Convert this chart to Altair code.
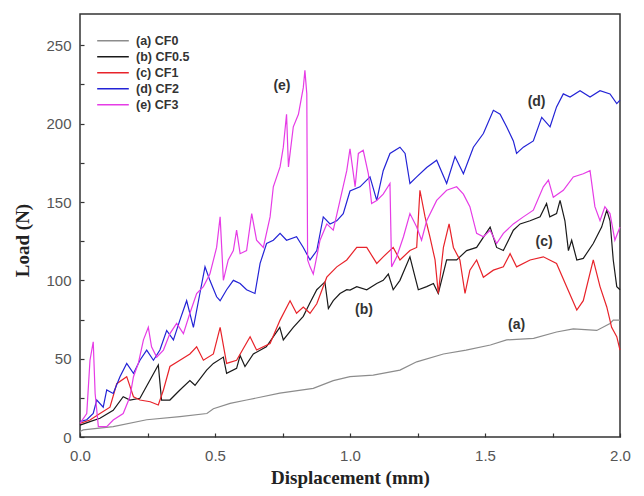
import altair as alt
import pandas as pd

# ---- data ----
a_x = [0.0, 0.012, 0.123, 0.247, 0.37, 0.47, 0.494, 0.556, 0.617, 0.74, 0.864, 0.938, 1.0,
       1.086, 1.185, 1.247, 1.346, 1.43, 1.52, 1.58, 1.68, 1.765, 1.827, 1.914, 1.963, 1.975, 2.0]
a_y = [3.5, 4.5, 6.6, 11, 13, 15, 18, 21.5, 23.6, 28, 31, 36, 38.5,
       39.5, 42.7, 48, 53, 55.5, 58.7, 62, 63, 67, 69, 68, 72.5, 74.6, 74.6]

b_x = [0.0, 0.037, 0.074, 0.123, 0.16, 0.185, 0.222, 0.29, 0.302, 0.333, 0.37, 0.407, 0.426,
       0.469, 0.494, 0.531, 0.543, 0.58, 0.593, 0.611, 0.642, 0.69, 0.74, 0.753, 0.79, 0.827,
       0.85, 0.877, 0.889, 0.907, 0.92, 0.938, 0.963, 0.988, 1.0, 1.025, 1.062, 1.099, 1.123,
       1.142, 1.16, 1.185, 1.222, 1.241, 1.253, 1.284, 1.309, 1.327, 1.358, 1.395, 1.432, 1.469,
       1.519, 1.543, 1.568, 1.605, 1.63, 1.667, 1.704, 1.728, 1.74, 1.765, 1.778, 1.796, 1.809,
       1.821, 1.84, 1.864, 1.901, 1.932, 1.951, 1.963, 1.975, 1.988, 2.0]
b_y = [7.6, 9.8, 12, 17, 25.7, 23.6, 24.7, 46, 23.6, 23.6, 30, 36, 33,
       42.7, 47, 51, 40.6, 43.8, 52, 45, 53, 57.6, 70, 62, 70, 77,
       85, 94, 96, 99, 82, 87, 91.6, 94, 93.8, 96, 94, 98, 100,
       104, 94, 100, 115, 102, 94, 96, 98, 91.6, 113, 113, 119, 121,
       134, 121, 119, 132, 136, 138, 140.5, 149, 140.5, 142.6, 151, 138, 119,
       125.6, 113, 114, 123.5, 134, 144.8, 138, 113, 96, 94]

c_x = [0.0, 0.037, 0.074, 0.111, 0.136, 0.173, 0.198, 0.222, 0.26, 0.29, 0.309, 0.333, 0.37,
       0.407, 0.432, 0.457, 0.494, 0.519, 0.543, 0.58, 0.63, 0.654, 0.704, 0.741, 0.778, 0.802,
       0.827, 0.852, 0.877, 0.914, 0.951, 0.988, 1.025, 1.062, 1.099, 1.123, 1.16, 1.185, 1.222,
       1.247, 1.259, 1.278, 1.296, 1.315, 1.327, 1.346, 1.367, 1.383, 1.407, 1.426, 1.444, 1.469,
       1.494, 1.531, 1.568, 1.593, 1.617, 1.667, 1.716, 1.765, 1.802, 1.84, 1.864, 1.901, 1.926,
       1.951, 1.969, 1.988, 2.0]
c_y = [8.7, 10.8, 15, 19, 34, 38.5, 25.7, 23.6, 22.5, 20.4, 30, 45, 49,
       53, 57.6, 49, 53, 70, 47, 49, 64, 55.5, 59.7, 74.6, 87, 79,
       83, 79, 85, 102, 108.6, 113, 121, 121, 110.8, 115, 121, 113, 119,
       121, 157.5, 140.5, 127.8, 113, 91.6, 121, 136, 121, 113, 91.6, 106.5, 113,
       102, 106.5, 108.6, 117, 108.6, 113, 115, 110.8, 96, 81, 87, 113, 96,
       83, 70, 64, 55.5]

d_x = [0.0, 0.025, 0.049, 0.062, 0.086, 0.099, 0.123, 0.148, 0.173, 0.198, 0.222, 0.247, 0.272,
       0.296, 0.321, 0.346, 0.37, 0.395, 0.42, 0.444, 0.463, 0.481, 0.506, 0.519, 0.543, 0.568,
       0.593, 0.617, 0.648, 0.667, 0.691, 0.716, 0.741, 0.765, 0.802, 0.827, 0.852, 0.877, 0.901,
       0.926, 0.951, 0.975, 1.0, 1.037, 1.074, 1.099, 1.123, 1.148, 1.185, 1.204, 1.222, 1.247,
       1.284, 1.321, 1.358, 1.389, 1.42, 1.457, 1.494, 1.531, 1.556, 1.58, 1.605, 1.617, 1.642,
       1.679, 1.71, 1.741, 1.765, 1.79, 1.815, 1.852, 1.889, 1.926, 1.963, 1.988, 2.0]
d_y = [9.8, 11, 15, 23.6, 19, 30, 27.8, 38.5, 47, 40.6, 49, 55.5, 49,
       55.5, 68, 62, 74.6, 87, 70, 91.6, 108.6, 100, 89.5, 87, 94, 100,
       98, 94, 91.6, 110.8, 123.5, 125.6, 130, 125.6, 127.8, 121, 113, 119, 140.5,
       136, 138, 142.6, 157, 159.7, 166, 151, 170, 181, 185, 181, 161.8, 166,
       172, 176.7, 161.8, 179, 168, 185, 193.7, 208.5, 206, 198, 189, 181, 185,
       189, 204, 198, 210.7, 219, 217, 221, 217, 221, 219, 212.8, 215]

e_x = [0.0, 0.025, 0.037, 0.049, 0.056, 0.068, 0.099, 0.123, 0.16, 0.185, 0.198, 0.216, 0.235,
       0.253, 0.265, 0.284, 0.309, 0.333, 0.358, 0.383, 0.407, 0.432, 0.457, 0.481, 0.506, 0.519,
       0.531, 0.549, 0.568, 0.58, 0.593, 0.617, 0.636, 0.654, 0.679, 0.704, 0.716, 0.741, 0.753,
       0.765, 0.772, 0.79, 0.809, 0.827, 0.833, 0.84, 0.843, 0.852, 0.864, 0.889, 0.914, 0.938,
       0.963, 0.988, 1.0, 1.019, 1.031, 1.049, 1.068, 1.08, 1.099, 1.123, 1.148, 1.154, 1.173,
       1.198, 1.222, 1.247, 1.265, 1.284, 1.321, 1.358, 1.395, 1.42, 1.444, 1.469, 1.494, 1.519,
       1.543, 1.568, 1.605, 1.642, 1.679, 1.716, 1.735, 1.753, 1.79, 1.827, 1.864, 1.889, 1.907,
       1.926, 1.944, 1.963, 1.981, 2.0]
e_y = [8.7, 15, 49, 60.8, 27.8, 6.6, 6.6, 10.8, 15, 25.7, 38.5, 47, 62,
       70, 57.6, 51, 55.5, 66, 72.5, 66, 79, 91.6, 96, 104, 121, 140.5,
       100, 113, 119, 132, 117, 119, 142.6, 125.6, 121, 140.5, 159.7, 172.4, 185,
       206, 172.4, 198, 206, 223, 234, 219, 113, 108.6, 104, 125.6, 136, 132,
       151, 170, 184, 159.7, 181, 183, 168, 149, 151, 155, 161.8, 108.6, 115,
       127.8, 142.6, 134, 125.6, 138, 151, 157.5, 159.7, 155, 147, 130, 127.8, 132,
       123.5, 130, 136, 140.5, 144.8, 159.7, 164, 153, 157.5, 166, 168, 170, 147,
       138, 147, 142.6, 125.6, 134]

series_names = ["(a) CF0", "(b) CF0.5", "(c) CF1", "(d) CF2", "(e) CF3"]
series_colors = ["#8c8c8c", "#1a1a1a", "#e8232a", "#2323d6", "#e63ce6"]

note_text = ["(e)", "(d)", "(c)", "(b)", "(a)"]
note_x = [0.748, 1.691, 1.719, 1.052, 1.617]
note_y = [224, 214, 124.6, 81, 71.4]

y_tick_values = [0, 25, 50, 75, 100, 125, 150, 175, 200, 225, 250]
x_tick_values = [0.0, 0.25, 0.5, 0.75, 1.0, 1.25, 1.5, 1.75, 2.0]

# ---- build table ----
rows = []
for name, xs, ys in zip(series_names, [a_x, b_x, c_x, d_x, e_x], [a_y, b_y, c_y, d_y, e_y]):
    for i, (xv, yv) in enumerate(zip(xs, ys)):
        rows.append({"series": name, "x": xv, "y": yv, "order": i})
df = pd.DataFrame(rows)
notes = pd.DataFrame({"label": note_text, "x": note_x, "y": note_y})

x_scale = alt.Scale(domain=[0, 2], nice=False, zero=False)
y_scale = alt.Scale(domain=[0, 270], nice=False)

x_axis = alt.Axis(
    title="Displacement (mm)", values=x_tick_values, format=".1f",
    labelExpr="abs(round(datum.value*2) - datum.value*2) < 0.01 ? datum.label : ''",
    labelFlush=False, labelOverlap=False,
    grid=False, domain=False, offset=-4, tickSize=4, tickColor="#333", tickWidth=1.2,
    labelPadding=11, labelFont="Liberation Sans", labelFontSize=15, labelColor="#555",
    titleFont="Liberation Serif", titleFontSize=19, titleFontWeight="bold", titleColor="#222",
    titleX=270, titleY=50, titleBaseline="alphabetic",
)
y_axis = alt.Axis(
    title="Load (N)", values=y_tick_values,
    labelExpr="datum.value % 50 === 0 ? datum.label : ''",
    labelFlush=False, labelOverlap=False,
    grid=False, domain=False, offset=-4, tickSize=4, tickColor="#333", tickWidth=1.2,
    labelPadding=9, labelFont="Liberation Sans", labelFontSize=15, labelColor="#555",
    titleFont="Liberation Serif", titleFontSize=19, titleFontWeight="bold", titleColor="#222",
    titleX=-62, titleY=226, titleBaseline="middle", titleAngle=270,
)

lines = alt.Chart(df).mark_line(strokeWidth=1.2, interpolate="linear").encode(
    x=alt.X("x:Q", scale=x_scale, axis=x_axis),
    y=alt.Y("y:Q", scale=y_scale, axis=y_axis),
    color=alt.Color(
        "series:N",
        scale=alt.Scale(domain=series_names, range=series_colors),
        legend=alt.Legend(
            title=None, orient="none", legendX=16, legendY=19, padding=0,
            symbolType="stroke", symbolSize=1000, symbolStrokeWidth=1.5,
            labelFont="Liberation Sans", labelFontSize=12.5, labelFontWeight="bold",
            labelColor="#333", rowPadding=0, labelOffset=6, clipHeight=15.7,
        ),
    ),
    order="order:Q",
)

labels = alt.Chart(notes).mark_text(
    font="Liberation Sans", fontSize=14, fontWeight="bold", color="#333",
    align="center", baseline="middle",
).encode(
    x=alt.X("x:Q", scale=x_scale),
    y=alt.Y("y:Q", scale=y_scale),
    text="label:N",
)

chart = alt.layer(lines, labels).properties(
    width=540, height=423,
    autosize=alt.AutoSizeParams(type="none"),
    padding={"left": 80, "top": 14, "right": 24, "bottom": 59},
    background="white",
).configure_view(stroke="#333", strokeWidth=1.5)

chart.save("out.html", embed_options={"renderer": "svg", "actions": False})
